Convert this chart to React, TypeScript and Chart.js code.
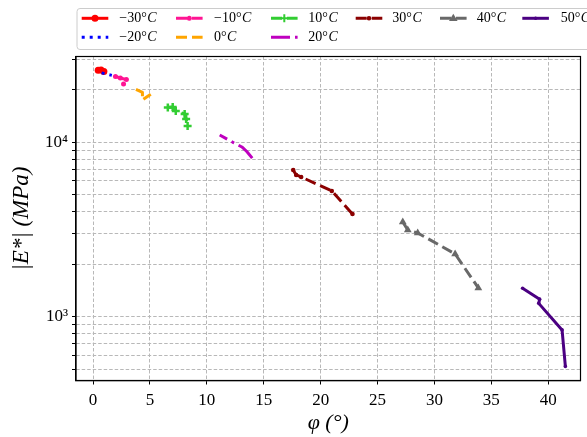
import React, { useEffect, useRef } from "react";
import { Chart, registerables } from "chart.js";

Chart.register(...registerables);

// ---------- data (phase angle φ in degrees, |E*| in MPa) ----------
const tempLabels = ["−30°", "−20°", "−10°", "0°", "10°", "20°", "30°", "40°", "50°"];

const phiM30 = [0.45, 0.7, 0.95];
const eM30 = [25900, 26000, 25500];

const phiM20 = [0.75, 1.65];
const eM20 = [25000, 24200];

const phiM10 = [1.97, 2.4, 2.93, 2.68];
const eM10 = [23840, 23370, 22900, 21600];

const phi0 = [3.77, 4.34, 4.34, 5.07];
const e0 = [20130, 19350, 17480, 18840];

const phi10 = [6.57, 7.0, 7.27, 8.05, 8.18, 8.31];
const e10 = [15830, 15940, 15120, 14540, 13600, 12400];

const phi20 = [11.13, 12.39, 13.08, 13.51, 14.12];
const e20 = [11010, 9910, 9400, 8850, 7915];

const phi30 = [17.59, 17.85, 18.29, 20.98, 22.8];
const e30 = [6930, 6494, 6324, 5258, 3880];

const phi40 = [27.22, 27.66, 28.53, 31.82, 33.86];
const e40 = [3492, 3142, 3019, 2288, 1461];

const phi50 = [37.75, 39.25, 39.17, 41.22, 41.51];
const e50 = [1455, 1259, 1191, 839, 518];

const xTickStep = 5;
const yTickValues = [
  500, 600, 700, 800, 900,
  1000, 2000, 3000, 4000, 5000, 6000, 7000, 8000, 9000,
  10000, 20000, 30000,
];
const yMajorLabels: Record<number, string> = { 1000: "10³", 10000: "10⁴" };

const SERIF = "'Liberation Serif', 'DejaVu Serif', serif";

const DASH = [11, 5];
const DOT = [3, 5];
const DASHDOT = [19, 5, 3, 5];

type Style = {
  color: string;
  dash: number[];
  dashOffset?: number;
  marker: string | false;
  radius: number;
};

const styles: Style[] = [
  { color: "#ff0000", dash: [], marker: "circle", radius: 3.5 },
  { color: "#0000ff", dash: DOT, marker: false, radius: 0 },
  { color: "#ff1493", dash: DASH, marker: "circle", radius: 2.5 },
  { color: "#ffa500", dash: DASH, marker: false, radius: 0 },
  { color: "#32cd32", dash: DASH, marker: "cross", radius: 4 },
  { color: "#bf00bf", dash: DASHDOT, dashOffset: 10.5, marker: false, radius: 0 },
  { color: "#8b0000", dash: DASH, marker: "circle", radius: 2.3 },
  { color: "#696969", dash: DASH, marker: "triangle", radius: 4.5 },
  { color: "#4b0082", dash: [], marker: "circle", radius: 1.8 },
];

const seriesX = [phiM30, phiM20, phiM10, phi0, phi10, phi20, phi30, phi40, phi50];
const seriesY = [eM30, eM20, eM10, e0, e10, e20, e30, e40, e50];

// legend layout (matplotlib style, column-major with 6 columns)
const legSampleX = [81.7, 176, 271, 355.7, 440, 522.3];
const legTextX = [119.3, 214, 308.3, 392.3, 476.7, 560.7];
const legRowY = [18.3, 37.3];

function drawMarker(ctx: CanvasRenderingContext2D, s: Style, x: number, y: number) {
  if (!s.marker) return;
  ctx.save();
  ctx.setLineDash([]);
  ctx.fillStyle = s.color;
  ctx.strokeStyle = s.color;
  ctx.lineWidth = 2;
  const r = s.radius;
  ctx.beginPath();
  if (s.marker === "circle") {
    ctx.arc(x, y, r, 0, Math.PI * 2);
    ctx.fill();
  } else if (s.marker === "cross") {
    ctx.moveTo(x - r, y);
    ctx.lineTo(x + r, y);
    ctx.moveTo(x, y - r);
    ctx.lineTo(x, y + r);
    ctx.stroke();
  } else if (s.marker === "triangle") {
    ctx.moveTo(x, y - r);
    ctx.lineTo(x + r * 0.95, y + r * 0.6);
    ctx.lineTo(x - r * 0.95, y + r * 0.6);
    ctx.closePath();
    ctx.fill();
  }
  ctx.restore();
}

const mplPlugin = {
  id: "mplDecor",
  afterDraw(chart: any) {
    const ctx: CanvasRenderingContext2D = chart.ctx;
    const { left, top, right, bottom } = chart.chartArea;
    ctx.save();
    // frame
    ctx.strokeStyle = "#000";
    ctx.lineWidth = 1.2;
    ctx.setLineDash([]);
    ctx.strokeRect(left, top, right - left, bottom - top);

    // legend box
    const bx = 77, by = 8.5, bw = 540, bh = 41, rr = 3;
    ctx.beginPath();
    ctx.moveTo(bx + rr, by);
    ctx.lineTo(bx + bw - rr, by);
    ctx.arcTo(bx + bw, by, bx + bw, by + rr, rr);
    ctx.lineTo(bx + bw, by + bh - rr);
    ctx.arcTo(bx + bw, by + bh, bx + bw - rr, by + bh, rr);
    ctx.lineTo(bx + rr, by + bh);
    ctx.arcTo(bx, by + bh, bx, by + bh - rr, rr);
    ctx.lineTo(bx, by + rr);
    ctx.arcTo(bx, by, bx + rr, by, rr);
    ctx.closePath();
    ctx.fillStyle = "rgba(255,255,255,0.8)";
    ctx.fill();
    ctx.strokeStyle = "#cccccc";
    ctx.lineWidth = 1;
    ctx.stroke();

    styles.forEach((s, i) => {
      const col = i < 6 ? Math.floor(i / 2) : i - 3;
      const row = i < 6 ? i % 2 : 0;
      const x0 = legSampleX[col];
      const x1 = x0 + 26.6;
      const y = legRowY[row];
      ctx.save();
      ctx.strokeStyle = s.color;
      ctx.lineWidth = 3;
      ctx.setLineDash(s.dash);
      ctx.lineDashOffset = 0;
      ctx.beginPath();
      ctx.moveTo(x0, y);
      ctx.lineTo(x1, y);
      ctx.stroke();
      ctx.restore();
      drawMarker(ctx, s, (x0 + x1) / 2, y);

      ctx.fillStyle = "#000";
      ctx.textBaseline = "middle";
      ctx.textAlign = "left";
      ctx.font = `14px ${SERIF}`;
      const main = tempLabels[i];
      ctx.fillText(main, legTextX[col], y + 0.5);
      const w = ctx.measureText(main).width;
      ctx.font = `italic 14px ${SERIF}`;
      ctx.fillText("C", legTextX[col] + w + 0.5, y + 0.5);
    });
    ctx.restore();
  },
};

export default function App() {
  const canvasRef = useRef<HTMLCanvasElement | null>(null);

  useEffect(() => {
    if (!canvasRef.current) return;
    const datasets = styles.map((s, i) => ({
      label: tempLabels[i] + "C",
      order: -i,
      data: seriesX[i].map((x, j) => ({ x, y: seriesY[i][j] })),
      showLine: true,
      borderColor: s.color,
      backgroundColor: s.color,
      borderWidth: 3,
      borderDash: s.dash,
      borderDashOffset: s.dashOffset || 0,
      borderCapStyle: "butt" as const,
      borderJoinStyle: "round" as const,
      pointStyle: (s.marker || "circle") as any,
      pointRadius: s.radius,
      pointBorderWidth: s.marker === "cross" ? 2.5 : 0,
      pointBorderColor: s.color,
      pointBackgroundColor: s.color,
      tension: 0,
    }));

    const chart = new Chart(canvasRef.current, {
      type: "scatter",
      data: { datasets },
      plugins: [mplPlugin],
      options: {
        animation: false,
        responsive: false,
        maintainAspectRatio: false,
        layout: { padding: { top: 56.5, left: 0, right: 0, bottom: 0 } },
        plugins: {
          legend: { display: false },
          tooltip: { enabled: false },
        },
        scales: {
          x: {
            type: "linear",
            min: -1.5,
            max: 42.84,
            afterFit: (scale: any) => {
              scale.height = 56.5;
            },
            ticks: {
              stepSize: xTickStep,
              includeBounds: false,
              maxRotation: 0,
              autoSkip: false,
              color: "#000",
              padding: 6,
              font: { family: SERIF, size: 17 },
            },
            grid: {
              color: "#b8b8b8",
              lineWidth: 1,
              drawTicks: true,
              tickLength: 4,
              tickColor: "#000",
              tickWidth: 1,
            },
            border: { display: true, color: "#000", width: 1.2, dash: [3.5, 2] },
            title: {
              display: true,
              text: "φ (°)",
              color: "#000",
              font: { family: SERIF, size: 22, style: "italic" },
              padding: { top: 0, bottom: 1 },
            },
          },
          y: {
            type: "logarithmic",
            min: 430,
            max: 31050,
            afterFit: (scale: any) => {
              scale.width = 76;
            },
            afterBuildTicks: (scale: any) => {
              scale.ticks = yTickValues.map((v) => ({ value: v, major: !!yMajorLabels[v] }));
            },
            ticks: {
              autoSkip: false,
              color: "#000",
              padding: 4,
              font: { family: SERIF, size: 17 },
              callback: (v: any) => yMajorLabels[Number(v)] || "",
            },
            grid: {
              color: "#b8b8b8",
              lineWidth: 1,
              drawTicks: true,
              tickLength: 4,
              tickColor: "#000",
              tickWidth: 1,
            },
            border: { display: true, color: "#000", width: 1.2, dash: [3.5, 2] },
            title: {
              display: true,
              text: "|E*| (MPa)",
              color: "#000",
              font: { family: SERIF, size: 23, style: "italic" },
              padding: { top: 8, bottom: 0 },
            },
          },
        },
      },
    });
    return () => chart.destroy();
  }, []);

  return (
    <div style={{ position: "absolute", left: 0, top: 0, width: 587, height: 437, background: "#fff" }}>
      <canvas ref={canvasRef} width={587} height={437} style={{ display: "block" }} />
    </div>
  );
}
